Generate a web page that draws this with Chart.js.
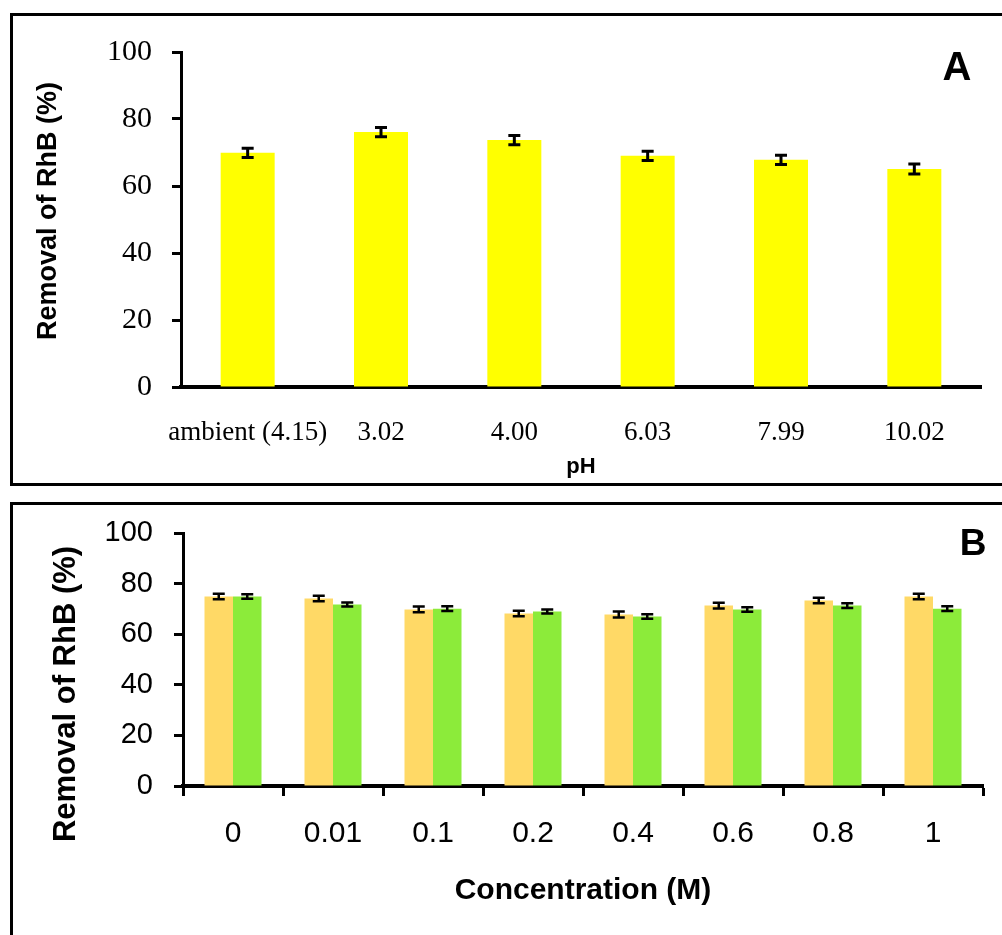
<!DOCTYPE html>
<html><head><meta charset="utf-8">
<script src="https://cdn.jsdelivr.net/npm/chart.js@4"></script>
<style>
html,body{margin:0;padding:0;background:#fff;}
body{width:1002px;height:935px;position:relative;overflow:hidden;}
.frame{position:absolute;border:3px solid #000;box-sizing:border-box;}
#frameA{left:10px;top:13px;width:1100px;height:473px;}
#frameB{left:10px;top:502px;width:1100px;height:600px;}
.wrap{position:absolute;left:0;width:1002px;}
#wrapA{top:0;height:490px;}
#wrapB{top:490px;height:445px;}
canvas{display:block;}
</style></head>
<body>
<div class="frame" id="frameA"></div>
<div class="frame" id="frameB"></div>
<div class="wrap" id="wrapA"><canvas id="chartA" width="1002" height="490"></canvas></div>
<div class="wrap" id="wrapB"><canvas id="chartB" width="1002" height="445"></canvas></div>
<script>
// ---- Data ----
const phLabels = ['ambient (4.15)', '3.02', '4.00', '6.03', '7.99', '10.02'];
const phRemoval = [69.9, 76.1, 73.7, 69.0, 67.8, 65.1];
const phError = [1.4, 1.4, 1.4, 1.4, 1.4, 1.5];

const concLabels = ['0', '0.01', '0.1', '0.2', '0.4', '0.6', '0.8', '1'];
const series1Removal = [74.9, 74.1, 69.8, 68.2, 67.8, 71.3, 73.3, 74.9];
const series1Error = [1.1, 1.1, 1.1, 1.1, 1.2, 1.1, 1.1, 1.1];
const series2Removal = [74.9, 71.7, 70.1, 69.0, 67.0, 69.8, 71.3, 70.1];
const series2Error = [0.9, 0.8, 0.9, 0.8, 0.9, 0.9, 0.9, 0.9];

const yTitle = 'Removal of RhB (%)';
const xTitleA = 'pH';
const xTitleB = 'Concentration (M)';
const letterA = 'A';
const letterB = 'B';

// ---- Plugins ----
const errorBars = {
  id: 'errorBars',
  afterDatasetsDraw(chart, args, opts) {
    const ctx = chart.ctx;
    const y = chart.scales.y;
    chart.data.datasets.forEach((ds, i) => {
      if (!ds.errors) return;
      const meta = chart.getDatasetMeta(i);
      meta.data.forEach((bar, j) => {
        const v = ds.data[j], e = ds.errors[j];
        const yt = y.getPixelForValue(v + e);
        const yb = y.getPixelForValue(v - e);
        const h = opts.cap / 2;
        ctx.save();
        ctx.strokeStyle = '#000';
        ctx.lineWidth = opts.lineWidth;
        ctx.beginPath();
        ctx.moveTo(bar.x, yt); ctx.lineTo(bar.x, yb);
        ctx.moveTo(bar.x - h, yt); ctx.lineTo(bar.x + h, yt);
        ctx.moveTo(bar.x - h, yb); ctx.lineTo(bar.x + h, yb);
        ctx.stroke();
        ctx.restore();
      });
    });
  }
};

const panelText = {
  id: 'panelText',
  afterDraw(chart, args, o) {
    const ctx = chart.ctx;
    ctx.save();
    ctx.fillStyle = '#000';
    ctx.font = o.letterFont;
    ctx.textAlign = 'center';
    ctx.textBaseline = 'alphabetic';
    ctx.fillText(o.letter, o.letterX, o.letterY);
    ctx.translate(o.titleX, o.titleY);
    ctx.rotate(-Math.PI / 2);
    ctx.font = o.titleFont;
    ctx.textAlign = 'center';
    ctx.textBaseline = 'alphabetic';
    ctx.fillText(o.title, 0, 0);
    ctx.restore();
  }
};

Chart.defaults.color = '#000';

// ---- Chart A ----
new Chart(document.getElementById('chartA'), {
  type: 'bar',
  data: {
    labels: phLabels,
    datasets: [{
      label: yTitle,
      data: phRemoval,
      errors: phError,
      backgroundColor: '#FFFF00',
      borderWidth: 0,
      barPercentage: 0.405,
      categoryPercentage: 1
    }]
  },
  options: {
    responsive: false,
    animation: false,
    devicePixelRatio: 1,
    layout: { padding: { left: 0, right: 21, top: 52, bottom: 7 } },
    plugins: {
      legend: { display: false },
      tooltip: { enabled: false },
      errorBars: { lineWidth: 3, cap: 12 },
      panelText: {
        letter: letterA, letterX: 957, letterY: 80, letterFont: 'bold 40px "Liberation Sans"',
        title: yTitle, titleX: 56, titleY: 211, titleFont: 'bold 27px "Liberation Sans"'
      }
    },
    scales: {
      x: {
        grid: { display: true, drawOnChartArea: false, drawTicks: false, tickLength: 0 },
        border: { display: true, color: '#000', width: 4 },
        ticks: { font: { family: 'Liberation Serif', size: 27 }, color: '#000', padding: 30, maxRotation: 0, autoSkip: false },
        title: { display: true, text: xTitleA, color: '#000', font: { family: 'Liberation Sans', size: 22, weight: 'bold' }, padding: { top: 0, bottom: 3 } },
        afterFit(s) { s.height = 96; }
      },
      y: {
        min: 0, max: 100,
        ticks: { stepSize: 20, font: { family: 'Liberation Serif', size: 30 }, color: '#000', padding: 20 },
        grid: { drawOnChartArea: false, drawTicks: true, tickLength: 9, tickWidth: 3, tickColor: '#000' },
        border: { display: true, color: '#000', width: 3 },
        afterFit(s) { s.width = 181; }
      }
    }
  },
  plugins: [errorBars, panelText]
});

// ---- Chart B ----
new Chart(document.getElementById('chartB'), {
  type: 'bar',
  data: {
    labels: concLabels,
    datasets: [{
      label: 'Series 1',
      data: series1Removal,
      errors: series1Error,
      backgroundColor: '#FFD966',
      borderWidth: 0,
      barPercentage: 1,
      categoryPercentage: 0.57
    }, {
      label: 'Series 2',
      data: series2Removal,
      errors: series2Error,
      backgroundColor: '#8CEB3A',
      borderWidth: 0,
      barPercentage: 1,
      categoryPercentage: 0.57
    }]
  },
  options: {
    responsive: false,
    animation: false,
    devicePixelRatio: 1,
    layout: { padding: { left: 0, right: 19, top: 43, bottom: 0 } },
    plugins: {
      legend: { display: false },
      tooltip: { enabled: false },
      errorBars: { lineWidth: 2.5, cap: 12 },
      panelText: {
        letter: letterB, letterX: 973, letterY: 65, letterFont: 'bold 37px "Liberation Sans"',
        title: yTitle, titleX: 75, titleY: 204, titleFont: 'bold 31px "Liberation Sans"'
      }
    },
    scales: {
      x: {
        grid: { display: true, offset: true, drawOnChartArea: false, drawTicks: true, tickLength: 10, tickWidth: 3, tickColor: '#000' },
        border: { display: true, color: '#000', width: 4 },
        ticks: { font: { family: 'Liberation Sans', size: 30 }, color: '#000', padding: 20, maxRotation: 0, autoSkip: false },
        title: { display: true, text: xTitleB, color: '#000', font: { family: 'Liberation Sans', size: 30, weight: 'bold' }, padding: { top: 0, bottom: 26 } },
        afterFit(s) { s.height = 149; }
      },
      y: {
        min: 0, max: 100,
        ticks: { stepSize: 20, font: { family: 'Liberation Sans', size: 29 }, color: '#000', padding: 21 },
        grid: { drawOnChartArea: false, drawTicks: true, tickLength: 9, tickWidth: 3, tickColor: '#000' },
        border: { display: true, color: '#000', width: 3 },
        afterFit(s) { s.width = 183; }
      }
    }
  },
  plugins: [errorBars, panelText]
});
</script>
</body></html>
